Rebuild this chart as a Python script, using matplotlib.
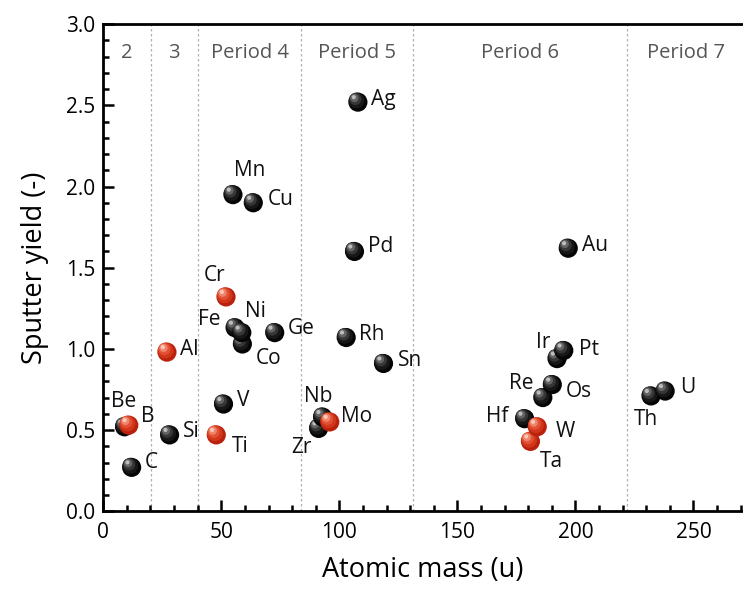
import matplotlib
matplotlib.use("Agg")
import matplotlib.pyplot as plt
import matplotlib.transforms as mtransforms
from matplotlib.ticker import MultipleLocator

plt.rcParams['font.family'] = ['Open Sans', 'DejaVu Sans']

# element, atomic mass (u), sputter yield (-), red marker?
elementos = ['Be', 'B', 'C', 'Al', 'Si', 'Ti', 'V', 'Cr', 'Mn', 'Fe', 'Co', 'Ni', 'Cu', 'Ge',
             'Zr', 'Nb', 'Mo', 'Rh', 'Pd', 'Ag', 'Sn', 'Hf', 'Ta', 'W', 'Re', 'Os', 'Ir', 'Pt',
             'Au', 'Th', 'U']
massa = [9.01, 10.81, 12.01, 26.98, 28.09, 47.87, 50.94, 52.00, 54.94, 55.85, 58.93, 58.69,
         63.55, 72.63, 91.22, 92.91, 95.95, 102.91, 106.42, 107.87, 118.71, 178.49, 180.95,
         183.84, 186.21, 190.23, 192.22, 195.08, 196.97, 232.04, 238.03]
rendimento = [0.52, 0.53, 0.27, 0.98, 0.47, 0.47, 0.66, 1.32, 1.95, 1.13, 1.03, 1.10, 1.90,
              1.10, 0.51, 0.58, 0.55, 1.07, 1.60, 2.52, 0.91, 0.57, 0.43, 0.52, 0.70, 0.78,
              0.94, 0.99, 1.62, 0.71, 0.74]
vermelho = ['B', 'Al', 'Ti', 'Cr', 'Mo', 'Ta', 'W']

# period boundaries (noble gases) and period labels
limites = [20.18, 39.95, 83.80, 131.29, 222.0]
periodos = ['2', '3', 'Period 4', 'Period 5', 'Period 6', 'Period 7']
centro_periodos = [10.1, 30.0, 62.0, 107.5, 176.6, 247.0]

# label offsets in pixels (dx, dy, ha)
rotulo = {
    'Be': (-1, 25, 'center'), 'B': (19, 9, 'center'), 'C': (13, 5, 'left'),
    'Al': (13, 3, 'left'), 'Si': (13, 3, 'left'), 'Ti': (24, -12, 'center'),
    'V': (13, 4, 'left'), 'Cr': (-11, 21, 'center'), 'Mn': (17, 24, 'center'),
    'Fe': (-26, 8, 'center'), 'Co': (26, -14, 'center'), 'Ni': (14, 21, 'center'),
    'Cu': (14, 3, 'left'), 'Ge': (13, 4, 'left'), 'Zr': (-17, -19, 'center'),
    'Nb': (-4, 21, 'center'), 'Mo': (11, 5, 'left'), 'Rh': (13, 3, 'left'),
    'Pd': (14, 5, 'left'), 'Ag': (13, 3, 'left'), 'Sn': (14, 3, 'left'),
    'Hf': (-27, 2, 'center'), 'Ta': (21, -20, 'center'), 'W': (28, -5, 'center'),
    'Re': (-22, 14, 'center'), 'Os': (13, -7, 'left'), 'Ir': (-14, 16, 'center'),
    'Pt': (15, 1, 'left'), 'Au': (14, 3, 'left'), 'Th': (-5, -24, 'center'),
    'U': (15, 4, 'left'),
}

fig = plt.figure(figsize=(7.43, 5.91), dpi=100)
ax = fig.add_axes([0.139, 0.135, 0.861, 0.824])
ax.set_xlim(0, 271)
ax.set_ylim(0, 3.0)


def esfera(ax, x, y, cor):
    # shaded ball: dark base plus a soft highlight towards the upper left
    if cor == 'red':
        base, camadas = '#b8210c', ['#d4391c', '#e5553a', '#f08a70', '#fbd0c4']
    else:
        base, camadas = '#050505', ['#1a1a1a', '#3a3a3a', '#6a6a6a', '#c8c8c8']
    ax.scatter([x], [y], s=190, color=base, edgecolors='none', zorder=4)
    tamanhos = [130, 75, 35, 9]
    deslocs = [(-1.0, 1.2), (-1.8, 2.2), (-2.5, 3.0), (-3.0, 3.6)]
    for c, s, (dx, dy) in zip(camadas, tamanhos, deslocs):
        tr = mtransforms.offset_copy(ax.transData, fig=fig, x=dx, y=dy, units='points')
        ax.scatter([x], [y], s=s, color=c, edgecolors='none', zorder=4, transform=tr,
                   alpha=0.9)


for el, m, r in zip(elementos, massa, rendimento):
    if el not in vermelho:
        esfera(ax, m, r, 'black')
for el, m, r in zip(elementos, massa, rendimento):
    if el in vermelho:
        esfera(ax, m, r, 'red')

for el, m, r in zip(elementos, massa, rendimento):
    dx, dy, ha = rotulo[el]
    ax.annotate(el, (m, r), xytext=(dx, dy), textcoords='offset pixels',
                ha=ha, va='center', fontsize=15, color='#111111', zorder=5)

for lim in limites:
    ax.axvline(lim, color='#b0b0b0', linestyle=(0, (2, 2)), linewidth=0.9, zorder=1)

for nome, cx in zip(periodos, centro_periodos):
    ax.text(cx, 2.82, nome, ha='center', va='center', fontsize=14.5, color='#555555')

ax.set_xlabel('Atomic mass (u)', fontsize=19.5, labelpad=9)
ax.set_ylabel('Sputter yield (-)', fontsize=19.5, labelpad=12)

ax.xaxis.set_major_locator(MultipleLocator(50))
ax.xaxis.set_minor_locator(MultipleLocator(10))
ax.yaxis.set_major_locator(MultipleLocator(0.5))
ax.yaxis.set_minor_locator(MultipleLocator(0.1))
ax.yaxis.set_major_formatter(plt.FuncFormatter(lambda v, p: '%.1f' % v))

ax.tick_params(which='both', direction='in', top=False, right=False, width=1.8,
               labelsize=15)
ax.tick_params(axis='x', pad=8)
ax.tick_params(axis='y', pad=6)
ax.tick_params(which='major', length=8)
ax.tick_params(which='minor', length=4)
for lado in ['left', 'bottom', 'top']:
    ax.spines[lado].set_linewidth(2)
ax.spines['right'].set_visible(False)

plt.savefig('out.png', dpi=100)
